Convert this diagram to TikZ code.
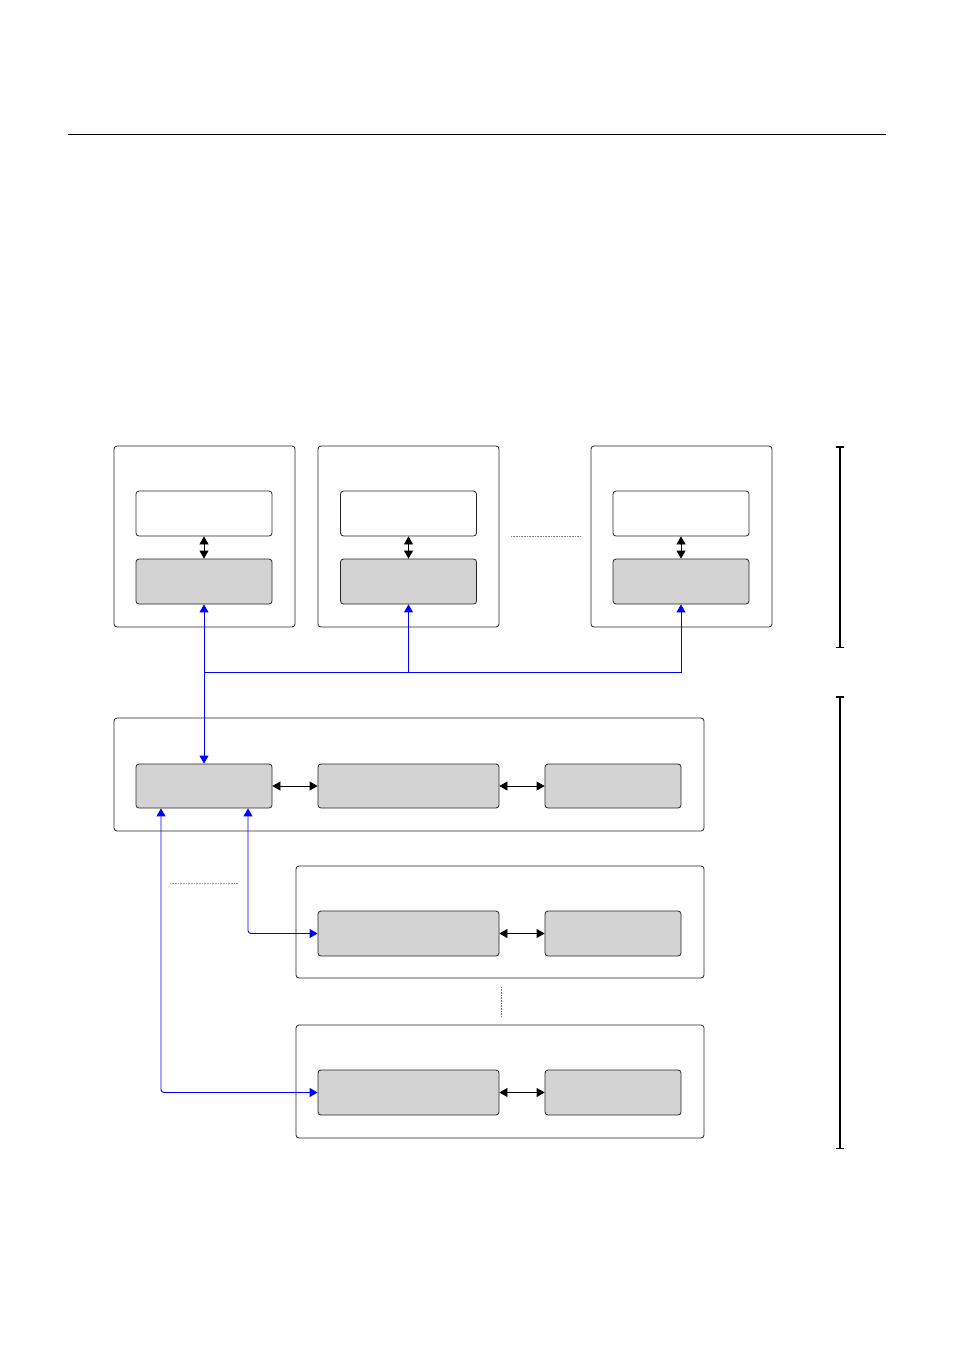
\documentclass[tikz,border=0pt]{standalone}
\usetikzlibrary{arrows.meta,calc}
\definecolor{boxgray}{HTML}{D3D3D3}
\tikzset{
  x=1pt,y=-1pt,
  outerbox/.style={draw=black!85,line width=0.8pt,rounded corners=3pt,minimum width=#1,inner sep=0pt},
  whitebox/.style={draw=black!85,fill=white,line width=0.8pt,rounded corners=3pt,minimum width=#1,minimum height=45pt,inner sep=0pt},
  graybox/.style={draw=black!85,fill=boxgray,line width=0.8pt,rounded corners=3pt,minimum width=#1,minimum height=45pt,inner sep=0pt},
  both/.style={arrows={Triangle[length=8pt,width=9pt]-Triangle[length=8pt,width=9pt]}},
  endtip/.style={arrows={-Triangle[length=8pt,width=9pt]}},
  dbl/.style={black,line width=0.8pt,both},
  bluelink/.style={blue,line width=0.9pt},
  bracket/.style={line width=1.8pt,{Bar[width=8pt,line width=1.5pt]}-{Bar[width=8pt,line width=1.5pt]}},
  dots/.style={densely dotted,line width=0.6pt},
}
\begin{document}
\begin{tikzpicture}
\useasboundingbox (0,0) rectangle (954,1350);
% top rule
\coordinate (r1) at (68,134);
\coordinate (r2) at (886,134);
\draw[line width=1pt] (r1) -- (r2);
% top boxes
\node[outerbox=181pt,minimum height=181pt] (b1) at (204.5,536.5) {};
\node[outerbox=181pt,minimum height=181pt] (b2) at (408.5,536.5) {};
\node[outerbox=181pt,minimum height=181pt] (b3) at (681.5,536.5) {};
\node[whitebox=136pt] (w1) at (204,513.5) {};
\node[whitebox=136pt] (w2) at (408.5,513.5) {};
\node[whitebox=136pt] (w3) at (681,513.5) {};
\node[graybox=136pt] (g1) at (204,581.5) {};
\node[graybox=136pt] (g2) at (408.5,581.5) {};
\node[graybox=136pt] (g3) at (681,581.5) {};
\draw[dbl] (w1.south) -- (g1.north);
\draw[dbl] (w2.south) -- (g2.north);
\draw[dbl] (w3.south) -- (g3.north);
\coordinate (d1) at (511,536);
\coordinate (d2) at (580,536);
\draw[dots,gray] (d1) -- (d2);
% middle box
\node[outerbox=590pt,minimum height=113pt] (M) at (409,774.5) {};
\node[graybox=136pt,minimum height=44pt] (A) at (204,786) {};
\node[graybox=181pt,minimum height=44pt] (B) at (408.5,786) {};
\node[graybox=136pt,minimum height=44pt] (C) at (613,786) {};
\draw[dbl] (A.east) -- (B.west);
\draw[dbl] (B.east) -- (C.west);
% lower boxes
\node[outerbox=408pt,minimum height=112pt] (L2) at (500,922) {};
\node[graybox=181pt] (D) at (408.5,933.5) {};
\node[graybox=136pt] (E) at (613,933.5) {};
\draw[dbl] (D.east) -- (E.west);
\node[outerbox=408pt,minimum height=113pt] (L3) at (500,1081.5) {};
\node[graybox=181pt] (F) at (408.5,1092.5) {};
\node[graybox=136pt] (G) at (613,1092.5) {};
\draw[dbl] (F.east) -- (G.west);
\coordinate (v1) at (501,987);
\coordinate (v2) at (501,1017);
\draw[dots,gray] (v1) -- (v2);
\coordinate (h1) at (170,883);
\coordinate (h2) at (238,883);
\draw[dots,blue!45] (h1) -- (h2);
% blue connectors
\coordinate (j) at (204,672);
\draw[bluelink,both] (g1.south) -- (A.north);
\draw[bluelink,endtip] (g1.south |- j) -- (g3.south |- j) -- (g3.south);
\draw[bluelink,endtip] (g2.south |- j) -- (g2.south);
\draw[bluelink,both,rounded corners=3pt] ($(A.south)+(44,0)$) |- (D.west);
\draw[bluelink,both,rounded corners=3pt] ($(A.south)+(-43,0)$) |- (F.west);
% brackets
\coordinate (k1) at (840,446);
\coordinate (k2) at (840,648);
\coordinate (k3) at (840,696);
\coordinate (k4) at (840,1149);
\draw[bracket] (k1) -- (k2);
\draw[bracket] (k3) -- (k4);
\end{tikzpicture}
\end{document}
